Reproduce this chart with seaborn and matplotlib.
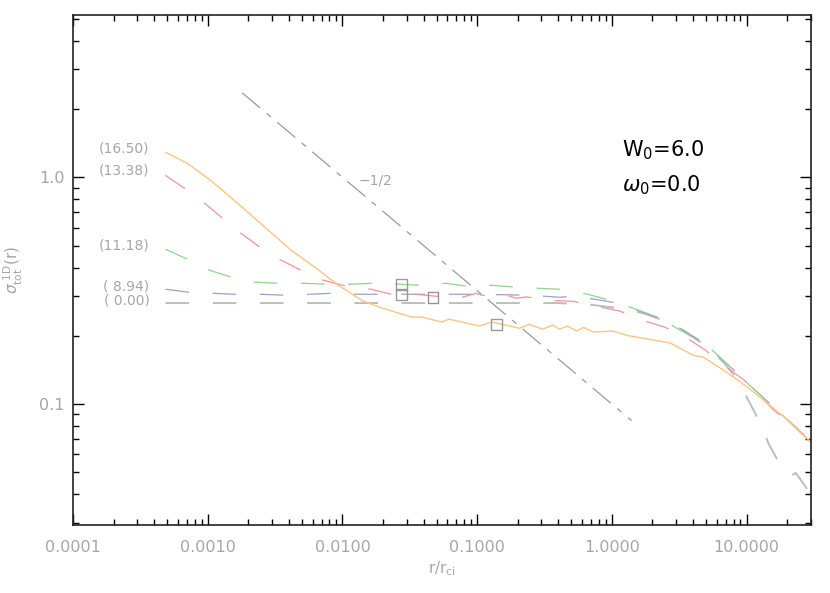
import numpy as np
import pandas as pd
import matplotlib
matplotlib.use("Agg")
import matplotlib.pyplot as plt
import seaborn as sns
from matplotlib.ticker import FuncFormatter, LogLocator, NullFormatter, FixedLocator

# ---- data ----
# orange solid curve, label (16.50)
r_165 = [4.86e-4, 7.10e-4, 1.05e-3, 1.67e-3, 2.66e-3, 4.16e-3, 6.40e-3, 9.33e-3, 0.0139, 0.0186,
         0.0249, 0.0327, 0.0389, 0.0548, 0.0618, 0.1035, 0.129, 0.206, 0.244, 0.305, 0.363, 0.409,
         0.469, 0.548, 0.618, 0.721, 1.017, 1.29, 2.71, 4.02, 4.78, 6.74, 9.02, 12.7, 18.9, 30.0]
s_165 = [1.29, 1.15, 0.970, 0.768, 0.602, 0.477, 0.397, 0.334, 0.287, 0.268, 0.254, 0.242, 0.242,
         0.230, 0.237, 0.221, 0.230, 0.216, 0.225, 0.214, 0.223, 0.214, 0.221, 0.210, 0.218, 0.208,
         0.210, 0.201, 0.186, 0.164, 0.161, 0.141, 0.125, 0.107, 0.0877, 0.0680]

# red dashed, label (13.38)
r_134 = [4.86e-4, 6.73e-4, 9.50e-4, 1.29e-3, 1.76e-3, 2.44e-3, 3.51e-3, 4.94e-3, 7.21e-3, 0.0107,
         0.0162, 0.0232, 0.0351, 0.0494, 0.0773, 0.0983, 0.109, 0.165, 0.195, 0.232, 0.345, 0.512,
         0.773, 1.15, 1.70, 2.49, 3.63, 4.94, 6.74, 9.50, 10.7, 15.9, 20.2, 30.0]
s_134 = [1.02, 0.894, 0.768, 0.660, 0.567, 0.492, 0.431, 0.389, 0.352, 0.331, 0.321, 0.305, 0.305,
         0.299, 0.296, 0.308, 0.302, 0.302, 0.293, 0.297, 0.287, 0.284, 0.270, 0.257, 0.234, 0.218,
         0.195, 0.173, 0.149, 0.128, 0.120, 0.094, 0.0842, 0.068]

# green dashed, label (11.18)
r_112 = [4.86e-4, 7.10e-4, 1.035e-3, 1.49e-3, 2.24e-3, 3.33e-3, 5.12e-3, 7.46e-3, 0.0115, 0.0165,
         0.0262, 0.0382, 0.0587, 0.0842, 0.129, 0.195, 0.290, 0.409, 0.662, 0.966, 1.43, 2.40, 2.95,
         4.94, 5.87, 9.02, 10.7, 15.9, 20.2, 30.0]
s_112 = [0.482, 0.435, 0.389, 0.363, 0.345, 0.341, 0.341, 0.338, 0.338, 0.341, 0.338, 0.334, 0.341,
         0.331, 0.334, 0.328, 0.324, 0.321, 0.305, 0.287, 0.265, 0.237, 0.218, 0.184, 0.168, 0.132,
         0.120, 0.097, 0.085, 0.0694]

# blue dashed, label ( 8.94)
r_089 = [4.86e-4, 7.34e-4, 1.09e-3, 1.62e-3, 2.49e-3, 3.76e-3, 5.58e-3, 8.28e-3, 0.0132, 0.0369,
         0.1035, 0.244, 0.409, 0.512, 0.747, 1.09, 1.70, 2.40, 3.39, 4.94, 6.74, 9.02, 10.7, 15.9,
         20.2, 30.0]
s_089 = [0.321, 0.311, 0.308, 0.305, 0.305, 0.302, 0.305, 0.308, 0.305, 0.305, 0.305, 0.302, 0.296,
         0.299, 0.290, 0.279, 0.254, 0.237, 0.212, 0.184, 0.155, 0.133, 0.120, 0.097, 0.085, 0.0687]

# grey dashed, label ( 0.00)
r_000 = [4.86e-4, 5.0e-3, 0.0657, 0.409, 0.747, 1.11, 1.70, 2.40, 3.39, 4.94, 6.74, 8.57, 10.3,
         12.5, 14.6, 17.6, 21.3, 23.2, 28.5]
s_000 = [0.279, 0.279, 0.279, 0.279, 0.273, 0.265, 0.252, 0.234, 0.210, 0.182, 0.153, 0.128, 0.104,
         0.0833, 0.0667, 0.0544, 0.0482, 0.0497, 0.0418]

# -1/2 reference slope
r_ref = [0.0018, 1.4]
s_ref = [2.36, 0.0845]

# half-mass markers
r_half = [0.0276, 0.0276, 0.0469, 0.1387]
s_half = [0.338, 0.305, 0.296, 0.225]

curve_labels = ["(16.50)", "(13.38)", "(11.18)", "( 8.94)", "( 0.00)"]
label_y = [1.34, 1.07, 0.502, 0.331, 0.287]

sns.set_style("ticks")
plt.rcParams["font.family"] = ["DejaVu Sans"]
plt.rcParams["lines.scale_dashes"] = False

grey_txt = "#a6a6a6"

fig = plt.figure(figsize=(8.3, 5.93), dpi=100)
ax = fig.add_axes([0.088, 0.1147, 0.889, 0.860])
ax.set_xscale("log")
ax.set_yscale("log")

dash = (17, 17)
curves = [
    (r_000, s_000, "#bdbdbd", 1.4),
    (r_089, s_089, "#9aa2c8", 0.9),
    (r_112, s_112, "#8fd48f", 0.9),
    (r_134, s_134, "#f29494", 0.9),
]
for rr, ss, col, lw in curves:
    d = pd.DataFrame({"r": rr, "s": ss})
    sns.lineplot(data=d, x="r", y="s", ax=ax, color=col, lw=lw, sort=False,
                 estimator=None, dashes=False, linestyle=(0, dash))

d = pd.DataFrame({"r": r_165, "s": s_165})
sns.lineplot(data=d, x="r", y="s", ax=ax, color="#ffc482", lw=1.0, sort=False, estimator=None)

d = pd.DataFrame({"r": r_ref, "s": s_ref})
sns.lineplot(data=d, x="r", y="s", ax=ax, color="#9a9a9a", lw=0.9, sort=False, estimator=None,
             linestyle=(0, (17, 6, 4, 6)))

d = pd.DataFrame({"r": r_half, "s": s_half})
sns.scatterplot(data=d, x="r", y="s", ax=ax, marker="s", s=60, facecolor="none",
                edgecolor=["#9a9a9a", "#9a9a9a", "#a08a9c", "#9a9a9a"], linewidth=1.0, zorder=5)

for lab, yy in zip(curve_labels, label_y):
    ax.text(3.7e-4, yy, lab, ha="right", va="center", color=grey_txt, fontsize=10)

ax.text(0.0176, 0.97, "\u22121/2", ha="center", va="center", color=grey_txt, fontsize=10)
ax.text(0.744, 0.735, r"W$_0$=6.0", transform=ax.transAxes, fontsize=15, color="black",
        va="center", ha="left")
ax.text(0.744, 0.667, r"$\omega_0$=0.0", transform=ax.transAxes, fontsize=15, color="black",
        va="center", ha="left")

ax.set_xlim(1e-4, 30)
ax.set_ylim(0.0293, 5.2)

ax.xaxis.set_major_locator(LogLocator(base=10, numticks=10))
ax.xaxis.set_minor_locator(LogLocator(base=10, subs=np.arange(2, 10), numticks=20))
ax.xaxis.set_major_formatter(FuncFormatter(lambda v, p: "%.4f" % v))
ax.xaxis.set_minor_formatter(NullFormatter())
ax.yaxis.set_major_locator(FixedLocator([0.1, 1.0]))
ax.yaxis.set_minor_locator(LogLocator(base=10, subs=np.arange(2, 10), numticks=20))
ax.yaxis.set_major_formatter(FuncFormatter(lambda v, p: "%.1f" % v))
ax.yaxis.set_minor_formatter(NullFormatter())

ax.tick_params(which="both", direction="in", top=True, right=True, color="black",
               labelcolor=grey_txt, labelsize=11.5)
ax.tick_params(axis="x", which="both", pad=11)
ax.tick_params(axis="y", which="both", pad=6)
ax.tick_params(which="major", length=8, width=1.0)
ax.tick_params(which="minor", length=4, width=1.0)
for sp in ax.spines.values():
    sp.set_linewidth(1.2)
    sp.set_color("#222222")

ax.set_xlabel(r"r/r$_{\rm ci}$", color=grey_txt, fontsize=11)
ax.set_ylabel(r"$\sigma_{\rm tot}^{\ \rm 1D}$(r)", color=grey_txt, fontsize=11)
ax.xaxis.set_label_coords(0.5, -0.068)
ax.yaxis.set_label_coords(-0.065, 0.5)

fig.savefig("out.png", dpi=100)
